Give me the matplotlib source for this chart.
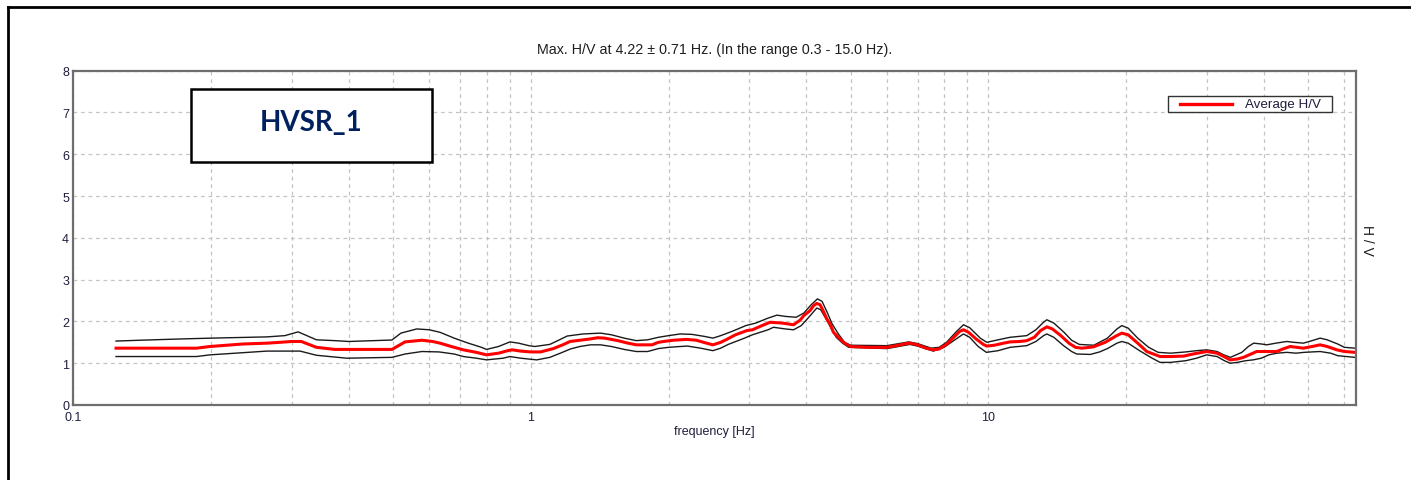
import matplotlib
matplotlib.use("Agg")
import matplotlib.pyplot as plt
from matplotlib.lines import Line2D
from matplotlib.patches import Rectangle
from matplotlib.ticker import FixedLocator, LogLocator, NullFormatter

# Average H/V spectral ratio
freq_avg = [0.124, 0.186, 0.199, 0.235, 0.265, 0.283, 0.300, 0.315, 0.340, 0.373,
            0.497, 0.531, 0.578, 0.610, 0.633, 0.670, 0.712, 0.760, 0.800, 0.850,
            0.890, 0.910, 0.950, 1.00, 1.05, 1.12, 1.18, 1.218, 1.28, 1.347,
            1.40, 1.45, 1.55, 1.63, 1.70, 1.84, 1.90, 1.95, 2.05, 2.19,
            2.30, 2.42, 2.50, 2.60, 2.68, 2.80, 2.965, 3.05, 3.20, 3.334,
            3.55, 3.75, 3.877, 3.95, 4.076, 4.15, 4.216, 4.287, 4.36, 4.435,
            4.508, 4.585, 4.742, 4.822, 4.986, 5.5, 6.0, 6.3, 6.6, 6.74,
            7.0, 7.3, 7.58, 7.8, 8.1, 8.4, 8.65, 8.82, 9.05, 9.4,
            9.75, 9.92, 10.3, 10.8, 11.15, 11.7, 12.13, 12.6, 13.0, 13.42,
            13.8, 14.4, 15.0, 15.5, 16.0, 16.96, 18.0, 19.0, 19.57, 20.2,
            21.2, 22.19, 23.73, 25.0, 26.7, 28.0, 30.0, 31.6, 32.7, 33.76,
            35.0, 36.1, 37.5, 38.6, 42.7, 44.0, 45.65, 48.8, 51.0, 53.1,
            55.0, 57.75, 60.0, 63.3]
hv_avg = [1.36, 1.36, 1.40, 1.46, 1.48, 1.50, 1.52, 1.52, 1.38, 1.33,
          1.33, 1.51, 1.55, 1.52, 1.48, 1.40, 1.32, 1.26, 1.20, 1.24,
          1.30, 1.32, 1.29, 1.27, 1.27, 1.35, 1.45, 1.52, 1.55, 1.58,
          1.61, 1.60, 1.54, 1.48, 1.44, 1.44, 1.50, 1.52, 1.55, 1.57,
          1.55, 1.48, 1.44, 1.50, 1.57, 1.68, 1.78, 1.80, 1.90, 1.98,
          1.96, 1.92, 2.03, 2.14, 2.26, 2.38, 2.43, 2.40, 2.24, 2.06,
          1.94, 1.74, 1.58, 1.50, 1.40, 1.38, 1.38, 1.42, 1.47, 1.48,
          1.44, 1.36, 1.32, 1.34, 1.45, 1.62, 1.76, 1.80, 1.74, 1.58,
          1.45, 1.41, 1.43, 1.48, 1.51, 1.52, 1.54, 1.62, 1.78, 1.87,
          1.82, 1.66, 1.48, 1.38, 1.36, 1.39, 1.50, 1.65, 1.72, 1.68,
          1.48, 1.28, 1.16, 1.16, 1.17, 1.22, 1.28, 1.24, 1.16, 1.08,
          1.10, 1.14, 1.22, 1.28, 1.28, 1.34, 1.40, 1.36, 1.40, 1.44,
          1.40, 1.32, 1.28, 1.26]

# Average + one standard deviation
freq_upper = [0.124, 0.140, 0.171, 0.200, 0.265, 0.290, 0.310, 0.340, 0.373, 0.400,
              0.497, 0.520, 0.563, 0.600, 0.633, 0.680, 0.730, 0.780, 0.800, 0.850,
              0.900, 0.940, 0.990, 1.02, 1.10, 1.15, 1.20, 1.30, 1.42, 1.50,
              1.60, 1.70, 1.80, 1.90, 2.00, 2.12, 2.25, 2.40, 2.50, 2.60,
              2.75, 2.95, 3.10, 3.30, 3.45, 3.60, 3.80, 3.95, 4.10, 4.23,
              4.33, 4.45, 4.55, 4.70, 4.85, 5.00, 6.00, 6.70, 7.00, 7.50,
              7.80, 8.10, 8.50, 8.82, 9.10, 9.60, 9.92, 10.5, 11.15, 12.13,
              12.7, 13.2, 13.42, 13.9, 14.6, 15.2, 15.8, 17.0, 18.2, 19.1,
              19.57, 20.2, 21.2, 22.4, 23.5, 25.0, 27.0, 28.5, 30.0, 31.6,
              32.7, 33.8, 35.8, 37.0, 38.0, 39.5, 40.6, 42.5, 44.9, 46.5,
              48.8, 51.0, 53.1, 55.0, 58.0, 60.0, 63.3]
hv_upper = [1.53, 1.55, 1.58, 1.60, 1.63, 1.66, 1.75, 1.56, 1.54, 1.52,
            1.555, 1.72, 1.82, 1.80, 1.74, 1.60, 1.48, 1.38, 1.33, 1.40,
            1.51, 1.48, 1.42, 1.40, 1.45, 1.55, 1.65, 1.70, 1.72, 1.68,
            1.60, 1.54, 1.56, 1.62, 1.66, 1.70, 1.69, 1.64, 1.60, 1.66,
            1.76, 1.90, 1.96, 2.08, 2.15, 2.12, 2.10, 2.20, 2.40, 2.54,
            2.48, 2.20, 1.95, 1.70, 1.50, 1.43, 1.42, 1.51, 1.47, 1.36,
            1.38, 1.50, 1.75, 1.92, 1.85, 1.60, 1.50, 1.56, 1.62, 1.66,
            1.80, 1.98, 2.04, 1.96, 1.75, 1.55, 1.45, 1.43, 1.60, 1.82,
            1.90, 1.84, 1.60, 1.38, 1.26, 1.24, 1.27, 1.30, 1.32, 1.28,
            1.20, 1.14, 1.26, 1.40, 1.48, 1.46, 1.44, 1.48, 1.52, 1.50,
            1.48, 1.54, 1.60, 1.56, 1.46, 1.38, 1.36]

# Average - one standard deviation
freq_lower = [0.124, 0.186, 0.199, 0.265, 0.313, 0.340, 0.396, 0.497, 0.531, 0.578,
              0.630, 0.680, 0.712, 0.760, 0.800, 0.870, 0.900, 0.950, 1.03, 1.10,
              1.16, 1.22, 1.28, 1.35, 1.42, 1.50, 1.60, 1.70, 1.80, 1.90,
              2.00, 2.12, 2.20, 2.35, 2.50, 2.60, 2.70, 2.90, 3.05, 3.30,
              3.39, 3.60, 3.75, 3.90, 4.05, 4.216, 4.30, 4.45, 4.55, 4.65,
              4.80, 4.95, 6.00, 6.74, 7.00, 7.58, 8.00, 8.50, 8.82, 9.10,
              9.50, 9.90, 10.5, 11.15, 12.13, 12.7, 13.2, 13.42, 13.9, 14.6,
              15.2, 15.6, 16.7, 17.5, 18.2, 19.1, 19.57, 20.2, 21.4, 22.8,
              23.73, 25.0, 27.0, 28.5, 30.0, 31.6, 32.8, 33.76, 35.0, 36.5,
              37.9, 39.5, 41.0, 42.7, 44.9, 47.0, 49.0, 53.1, 56.0, 58.0,
              63.3]
hv_lower = [1.16, 1.16, 1.20, 1.29, 1.29, 1.19, 1.12, 1.14, 1.22, 1.28,
            1.27, 1.22, 1.16, 1.12, 1.08, 1.12, 1.16, 1.12, 1.08, 1.14,
            1.24, 1.34, 1.40, 1.44, 1.44, 1.40, 1.33, 1.28, 1.28, 1.35,
            1.38, 1.40, 1.41, 1.36, 1.30, 1.36, 1.45, 1.58, 1.68, 1.80,
            1.86, 1.82, 1.80, 1.90, 2.10, 2.32, 2.28, 2.00, 1.80, 1.62,
            1.48, 1.38, 1.35, 1.45, 1.41, 1.29, 1.38, 1.58, 1.70, 1.62,
            1.40, 1.26, 1.30, 1.38, 1.42, 1.52, 1.66, 1.70, 1.62, 1.42,
            1.28, 1.22, 1.21, 1.27, 1.35, 1.48, 1.52, 1.48, 1.30, 1.12,
            1.02, 1.02, 1.06, 1.12, 1.20, 1.16, 1.06, 1.00, 1.02, 1.06,
            1.08, 1.12, 1.20, 1.24, 1.26, 1.24, 1.26, 1.28, 1.24, 1.18,
            1.14]

x_major = [0.1, 1, 10]
x_major_labels = ["0.1", "1", "10"]
y_ticks = [0, 1, 2, 3, 4, 5, 6, 7, 8]

title_text = "Max. H/V at 4.22 \u00b1 0.71 Hz. (In the range 0.3 - 15.0 Hz)."
legend_label = "Average H/V"
station_name = "HVSR_1"

W, H = 1411, 481
plt.rcParams["font.family"] = ["Liberation Sans", "DejaVu Sans"]
fig = plt.figure(figsize=(W / 100, H / 100), dpi=100)
fig.patch.set_facecolor("white")


def fx(px):
    return px / W


def fy(py):
    return 1 - py / H


left, right, top, bottom = 73.3, 1355.7, 71.7, 406.0
ax = fig.add_axes([fx(left), fy(bottom), (right - left) / W, (bottom - top) / H])
ax.set_xscale("log")
ax.set_xlim(0.1, 63.5)
ax.set_ylim(0, 8)

ax.xaxis.set_major_locator(FixedLocator(x_major))
ax.set_xticklabels(x_major_labels)
ax.xaxis.set_minor_locator(LogLocator(base=10, subs=range(2, 10), numticks=20))
ax.xaxis.set_minor_formatter(NullFormatter())
ax.set_yticks(y_ticks)
ax.tick_params(axis="both", which="both", length=0, labelsize=9, labelcolor="#1e1e3c")
ax.tick_params(axis="y", pad=3)
ax.tick_params(axis="x", pad=4)

grid_kw = dict(color="#c4c4c4", linestyle=(0, (3, 3)), linewidth=0.9)
ax.grid(True, which="major", axis="both", **grid_kw)
ax.grid(True, which="minor", axis="x", **grid_kw)
ax.set_axisbelow(True)
for sp in ax.spines.values():
    sp.set_color("#6e6e6e")
    sp.set_linewidth(1.6)

ax.plot(freq_upper, hv_upper, color="#1a1a1a", linewidth=1.0)
ax.plot(freq_lower, hv_lower, color="#1a1a1a", linewidth=1.0)
ax.plot(freq_avg, hv_avg, color="#ff0000", linewidth=2.2, solid_joinstyle="round")

ax.set_title(title_text, fontsize=10.3, color="#1e1e1e", pad=13)
ax.set_xlabel("frequency [Hz]", fontsize=9, color="#1e1e3c", labelpad=2)
fig.text(fx(1367), fy(240), "H / V", rotation=-90, fontsize=10,
         color="#1e1e1e", ha="center", va="center")

# legend box
lx0, ly0, lx1, ly1 = 1167.7, 96.7, 1331.7, 113.3
fig.add_artist(Rectangle((fx(lx0), fy(ly1)), (lx1 - lx0) / W, (ly1 - ly0) / H,
                         transform=fig.transFigure, facecolor="white",
                         edgecolor="#333333", linewidth=1.0, zorder=5))
fig.add_artist(Line2D([fx(1180), fx(1232)], [fy(104.8), fy(104.8)],
                      transform=fig.transFigure, color="#ff0000", linewidth=2.4, zorder=6))
fig.text(fx(1245), fy(105), legend_label, fontsize=9.6, color="#1e1e3c",
         ha="left", va="center", zorder=6)

# station label box
bx0, by0, bx1, by1 = 191, 90, 432, 163.3
fig.add_artist(Rectangle((fx(bx0), fy(by1)), (bx1 - bx0) / W, (by1 - by0) / H,
                         transform=fig.transFigure, facecolor="white",
                         edgecolor="black", linewidth=1.8, zorder=5))
fig.text(fx((bx0 + bx1) / 2), fy(123), station_name, fontsize=20,
         fontweight="bold", family=["Lato", "DejaVu Sans"], color="#002060",
         ha="center", va="center", zorder=6)

# outer frame (top and left edges)
fig.add_artist(Line2D([fx(8), 1], [fy(8), fy(8)], transform=fig.transFigure,
                      color="black", linewidth=2))
fig.add_artist(Line2D([fx(8), fx(8)], [0, fy(8)], transform=fig.transFigure,
                      color="black", linewidth=2))

fig.savefig("out.png", dpi=100)
